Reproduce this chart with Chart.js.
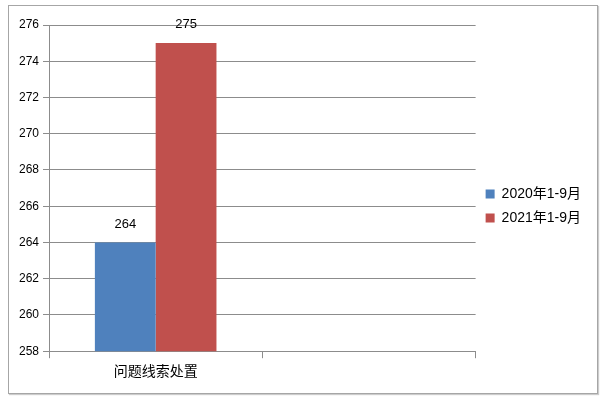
<!DOCTYPE html>
<html>
<head>
<meta charset="utf-8">
<script src="https://cdn.jsdelivr.net/npm/chart.js@4/dist/chart.umd.min.js"></script>
<style>
body { margin: 0; background: #fff; }
#box { position: absolute; left: 8px; top: 5px; width: 588px; height: 387px; border: 1px solid #a6a6a6; box-shadow: 1px 1px 1px #ccc; }
</style>
</head>
<body>
<div id="box"><canvas id="myChart" width="588" height="387"></canvas></div>
<script>
'use strict';
const categories = ['问题线索处置', ''];
const series2020 = [264, null];
const series2021 = [275, null];
const seriesNames = ['2020年1-9月', '2021年1-9月'];
const yTicks = { min: 258, max: 276, step: 2 };

const fontFamily = '"Liberation Sans", "Noto Sans CJK SC", sans-serif';

// etiquetas de valor encima de cada barra
const valueLabels = {
    id: 'valueLabels',
    afterDatasetsDraw(chart) {
        const ctx = chart.ctx;
        ctx.save();
        ctx.fillStyle = '#000';
        ctx.font = '13px ' + fontFamily;
        ctx.textAlign = 'center';
        ctx.textBaseline = 'bottom';
        chart.data.datasets.forEach(function (ds, i) {
            chart.getDatasetMeta(i).data.forEach(function (bar, j) {
                if (ds.data[j] == null) return;
                ctx.fillText(ds.data[j], bar.x, bar.y - 12);
            });
        });
        ctx.restore();
    }
};

new Chart(document.getElementById('myChart').getContext('2d'), {
    type: 'bar',
    data: {
        labels: categories,
        datasets: [
            { label: seriesNames[0], data: series2020, backgroundColor: '#4F81BD' },
            { label: seriesNames[1], data: series2021, backgroundColor: '#C0504D' }
        ]
    },
    options: {
        responsive: false,
        animation: false,
        layout: { padding: { left: 6, top: 19, right: 6, bottom: 6 } },
        datasets: { bar: { barPercentage: 1, categoryPercentage: 0.57 } },
        plugins: {
            legend: {
                position: 'right',
                labels: {
                    boxWidth: 9,
                    boxHeight: 9,
                    padding: 10,
                    color: '#000',
                    font: { size: 14, family: fontFamily }
                }
            },
            tooltip: { enabled: false }
        },
        scales: {
            x: {
                grid: { offset: true, drawOnChartArea: false, tickLength: 7, color: '#8c8c8c' },
                border: { color: '#8c8c8c' },
                ticks: { color: '#000', font: { size: 14, family: fontFamily }, padding: 6 }
            },
            y: {
                min: yTicks.min,
                max: yTicks.max,
                ticks: { stepSize: yTicks.step, color: '#000', font: { size: 12, family: fontFamily }, padding: 4 },
                grid: { color: '#8c8c8c', tickLength: 6 },
                border: { color: '#8c8c8c' }
            }
        }
    },
    plugins: [valueLabels]
});
</script>
</body>
</html>
